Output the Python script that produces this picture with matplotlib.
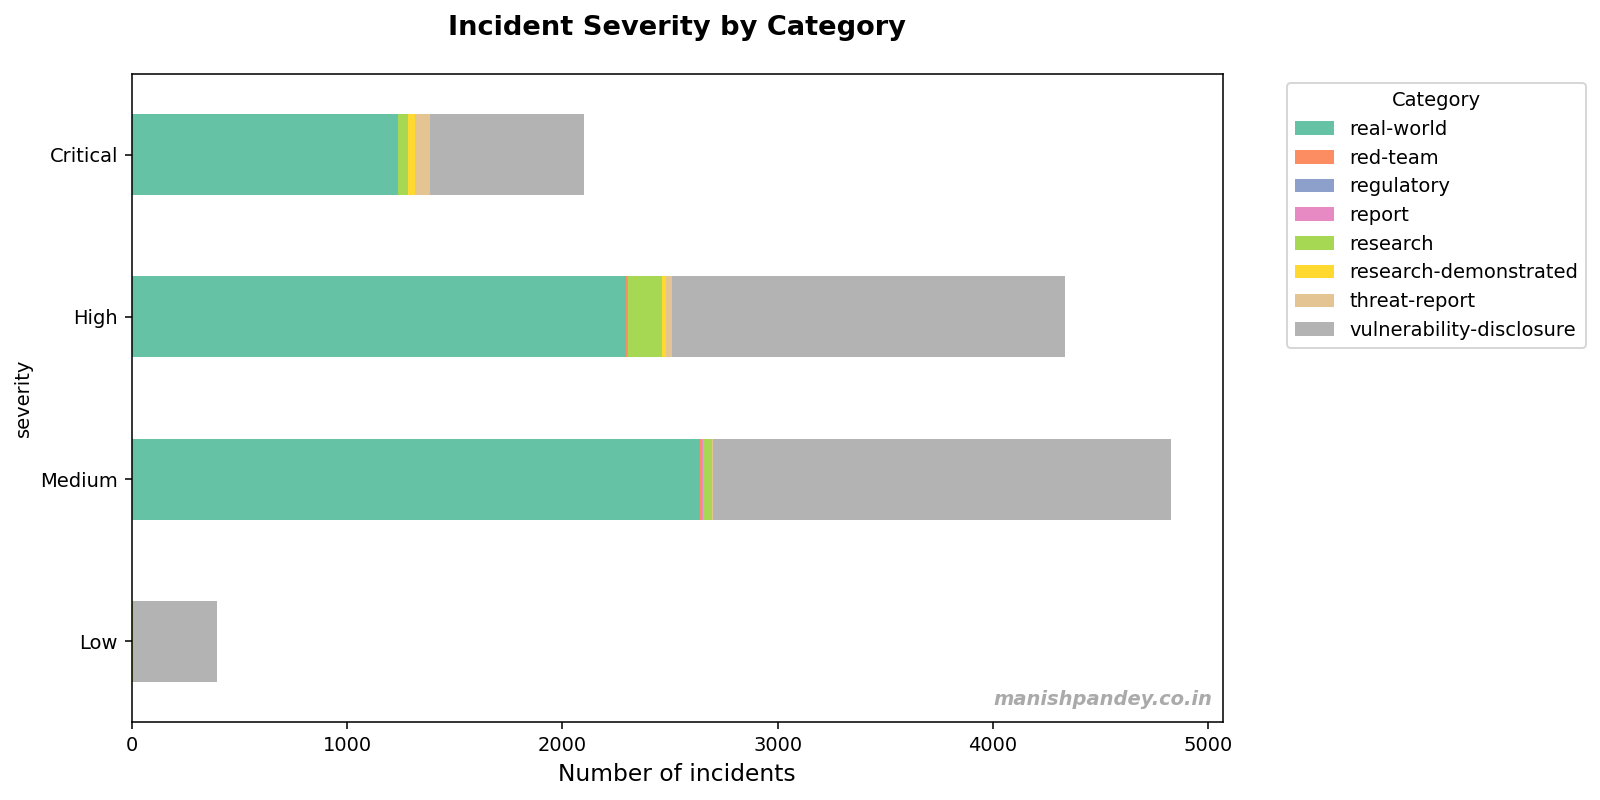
import numpy as np
import matplotlib
matplotlib.use("Agg")
import matplotlib.pyplot as plt

"""Incident counts by severity (rows) and category (stacked segments)"""
severity = ["Low", "Medium", "High", "Critical"]
categories = ["real-world", "red-team", "regulatory", "report", "research",
              "research-demonstrated", "threat-report", "vulnerability-disclosure"]

real_world = [0, 2640, 2296, 1239]
red_team = [0, 7, 5, 0]
regulatory = [0, 1, 1, 0]
report = [0, 5, 4, 0]
research = [8, 42, 159, 45]
research_demo = [0, 0, 17, 31]
threat_report = [0, 6, 28, 70]
vuln_disclosure = [387, 2125, 1823, 715]

series = [real_world, red_team, regulatory, report, research,
          research_demo, threat_report, vuln_disclosure]
colors = plt.cm.Set2(np.arange(8))

DPI = 140
fig = plt.figure(figsize=(1600 / DPI, 800 / DPI), dpi=DPI)
ax = fig.add_axes([0.0823, 0.097, 0.682, 0.811])

y = np.arange(len(severity))
left = np.zeros(len(severity))
for name, vals, c in zip(categories, series, colors):
    ax.barh(y, vals, height=0.5, left=left, color=c, label=name)
    left += np.array(vals)

ax.set_yticks(y)
ax.set_yticklabels(severity)
ax.set_ylim(-0.5, 3.5)
ax.set_xlim(0, left.max() * 1.05)
ax.set_ylabel("severity")
ax.set_xlabel("Number of incidents", fontsize=12)
ax.set_title("Incident Severity by Category", fontsize=14, fontweight="bold", pad=20)
ax.legend(title="Category", bbox_to_anchor=(1.05, 1.0), loc="upper left")
ax.text(0.99, 0.02, "manishpandey.co.in", transform=ax.transAxes, ha="right", va="bottom",
        fontsize=10, fontweight="bold", fontstyle="italic", color="#aaaaaa")

fig.savefig("out.png", dpi=DPI)
